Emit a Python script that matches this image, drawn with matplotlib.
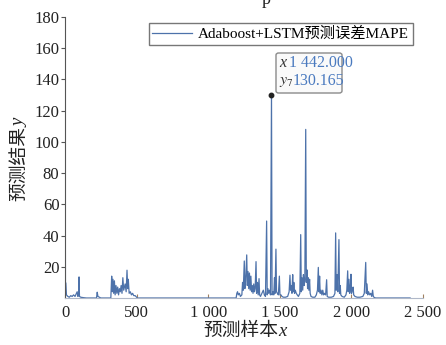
import matplotlib
matplotlib.use("Agg")
import matplotlib.pyplot as plt
import matplotlib.transforms as mtransforms
from matplotlib.patches import FancyBboxPatch

plt.rcParams['font.family'] = ['Liberation Serif', 'Noto Sans CJK SC', 'DejaVu Sans']
plt.rcParams['mathtext.fontset'] = 'stix'

# ---- data (sample index, MAPE value) ----
sample_idx = [
    0, 3, 6, 10, 20, 30, 40, 50, 60, 70, 80, 85, 90, 95, 98, 101, 110, 130, 150,
    220, 225, 230, 240, 250,
    320, 326, 330, 335, 340, 345, 350, 356, 362, 368, 374, 380, 386, 392, 398, 404,
    410, 420, 427, 433, 438, 442, 448, 456, 464, 472, 480, 490, 500, 505,
    1195, 1200, 1205, 1210, 1218, 1225, 1235, 1240, 1245, 1252, 1256, 1262, 1269,
    1273, 1278, 1283, 1288, 1293, 1298, 1303, 1308, 1313, 1318, 1323, 1328, 1334,
    1338, 1344, 1349, 1355, 1359, 1365, 1375, 1385, 1392, 1400, 1408, 1412, 1417,
    1422, 1428, 1435, 1442, 1446, 1452, 1458, 1463, 1467, 1473, 1477, 1483, 1490,
    1497, 1501, 1508, 1515, 1525, 1540, 1555, 1565, 1571, 1575, 1580, 1585, 1590,
    1594, 1598, 1603, 1608, 1615, 1622, 1630, 1640, 1646, 1650, 1655, 1660, 1665,
    1670, 1675, 1681, 1685, 1690, 1694, 1698, 1703, 1708, 1712, 1718, 1730, 1745,
    1755, 1763, 1769, 1773, 1778, 1782, 1788, 1794, 1800, 1806, 1812, 1820, 1827,
    1831, 1840, 1860, 1875, 1885, 1890, 1894, 1900, 1905, 1913, 1917, 1922, 1926,
    1935, 1950, 1962, 1968, 1974, 1978, 1983, 1988, 1993, 1997, 2001, 2006, 2012,
    2016, 2025, 2040, 2060, 2080, 2090, 2100, 2104, 2109, 2114, 2120, 2128, 2135,
    2142, 2148, 2153, 2160, 2170, 2410,
]
mape_vals = [
    177, 10, 9.6, 2, 1, 0.5, 1.5, 1, 2, 1, 3, 4, 1, 2, 13.5, 1, 0.5, 0.2, 0,
    0, 3.7, 1, 0.5, 0,
    0, 14, 4, 12, 3, 11, 2, 8, 3, 7, 2, 6, 4, 8, 3, 13,
    5, 9, 4, 17.8, 6, 12, 3, 4, 2, 3, 1.5, 1.5, 0.5, 0,
    0, 3, 4, 2, 3, 1, 2, 10, 5, 23.7, 6, 12, 27.6,
    8, 17, 6, 16, 5, 14, 4, 8, 3, 9, 4, 6, 23.3,
    3, 10, 2, 12.4, 2, 1, 3, 5, 2, 1, 49.3, 2, 6,
    3, 5, 2, 130.165, 2, 4, 2, 13, 3, 31.3, 4, 3, 2,
    14, 2, 2, 1, 0.5, 0.5, 1, 4, 14.6, 5, 8, 3, 15,
    4, 10, 3, 5, 3, 2, 1, 3, 40.6, 4, 13, 5, 15,
    8, 12, 108, 10, 18, 6, 13, 5, 12, 3, 1, 0.5, 0.5,
    2, 5, 19.6, 4, 14, 3, 5, 2, 5, 2, 3, 2, 11.7,
    1, 0.5, 0.5, 1, 3, 41.7, 5, 15, 4, 37.4, 3, 8, 2,
    1, 0.5, 2, 5, 17.4, 4, 12, 3, 6, 15.2, 3, 5, 7,
    2, 1, 0.5, 0.5, 1, 3, 22.8, 3, 9, 2, 4, 2, 3,
    1, 5, 1, 0.3, 0, 0,
]
tip_x = 1442
tip_y = 130.165
legend_label = 'Adaboost+LSTM预测误差MAPE'
x_ticks = [0, 500, 1000, 1500, 2000, 2500]
x_tick_labels = ['0', '500', '1 000', '1 500', '2 000', '2 500']
y_ticks = [20, 40, 60, 80, 100, 120, 140, 160, 180]

W, H = 446, 345
line_color = '#4d72aa'
tick_fs = 12
label_fs = 13.5

def fx(px):
    return px / W

def fy(py):
    return 1 - py / H

fig = plt.figure(figsize=(W/100, H/100), dpi=100)
ax = fig.add_axes([fx(65), fy(298), (423-65)/W, (298-17)/H])

ax.plot(sample_idx, mape_vals, color=line_color, lw=0.9, label=legend_label)
ax.plot([tip_x], [tip_y], 'o', color='#222222', ms=3.2, zorder=5)

ax.set_xlim(0, 2500)
ax.set_ylim(0, 180)
ax.set_xticks(x_ticks)
ax.set_xticklabels(x_tick_labels, fontsize=tick_fs)
ax.set_yticks(y_ticks)
ax.set_yticklabels([str(v) for v in y_ticks], fontsize=tick_fs)

lbl0 = ax.get_xticklabels()[0]
lbl0.set_transform(lbl0.get_transform() + mtransforms.ScaledTranslation(-8/100, 0, fig.dpi_scale_trans))

for s in ['top', 'right']:
    ax.spines[s].set_visible(False)
ax.spines['left'].set_color('#555555')
ax.spines['left'].set_linewidth(0.8)
ax.spines['bottom'].set_color('#b0b8c8')
ax.spines['bottom'].set_linewidth(0.8)
ax.tick_params(axis='x', direction='in', length=3, color='#a08060', pad=5, labelcolor='#222222')
ax.tick_params(axis='y', direction='out', length=3, color='#555555', pad=1, labelcolor='#222222')

# axis labels: CJK part + italic variable
fig.text(fx(203), fy(331), '预测样本', fontsize=label_fs, color='#222222', ha='left', va='center')
fig.text(fx(278), fy(331), 'x', fontsize=label_fs, style='italic', color='#222222', ha='left', va='center')
fig.text(fx(20), fy(201), '预测结果', fontsize=label_fs, color='#222222', ha='center', va='bottom', rotation=90)
fig.text(fx(20), fy(127), 'y', fontsize=label_fs, style='italic', color='#222222', ha='center', va='bottom', rotation=90)

leg = ax.legend(loc='upper right', bbox_to_anchor=(fx(413), fy(23)), bbox_transform=fig.transFigure,
                fontsize=11, frameon=True, fancybox=False, handlelength=2.6, handletextpad=0.4,
                borderpad=0.25, borderaxespad=0)
leg.get_frame().set_edgecolor('#555555')
leg.get_frame().set_linewidth(1.0)

# data tip box
tip_text_color = '#4a7abf'
box = FancyBboxPatch((fx(276), fy(93)), fx(342) - fx(276), fy(53) - fy(93),
                     boxstyle='round,pad=0,rounding_size=0.006', transform=fig.transFigure,
                     fc='#fafafa', ec='#8a8a8a', lw=1.0, zorder=4)
fig.patches.append(box)
fig.text(fx(279), fy(63), 'x', fontsize=11.5, style='italic', color='#333333', va='center', ha='left', zorder=6)
fig.text(fx(289), fy(63), '1 442.000', fontsize=11.5, color=tip_text_color, va='center', ha='left', zorder=6)
fig.text(fx(279), fy(81), r'$y_7$', fontsize=11.5, color='#333333', va='center', ha='left', zorder=6)
fig.text(fx(293), fy(81), '130.165', fontsize=11.5, color=tip_text_color, va='center', ha='left', zorder=6)

fig.text(fx(266), fy(4), 'p', fontsize=13, color='#222222', va='baseline', ha='center')

fig.savefig('out.png', dpi=100)
